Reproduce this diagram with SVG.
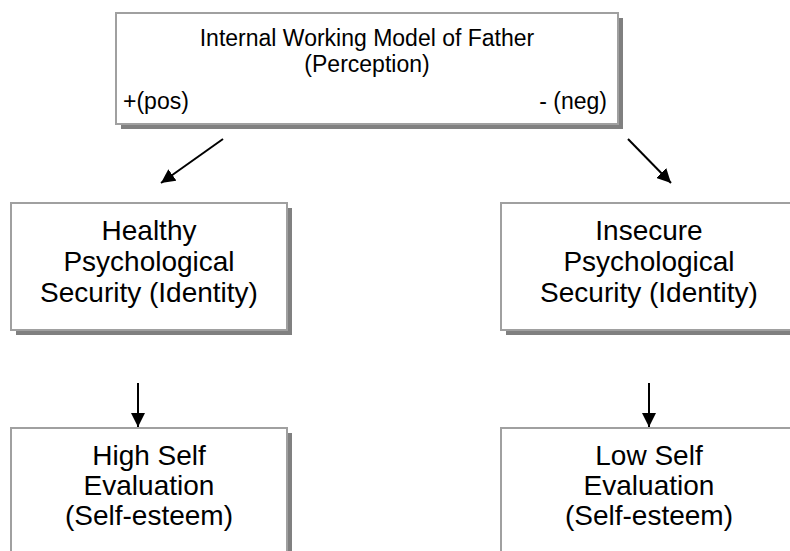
<svg xmlns="http://www.w3.org/2000/svg" width="790" height="551" viewBox="0 0 790 551">
<defs>
<style>
.shadow{fill:#808080;}
.box{fill:#ffffff;stroke:#a0a0a0;stroke-width:2;}
.t{font-family:"Liberation Sans",Arial,sans-serif;fill:#000;text-anchor:middle;}
.top{font-size:23px;}
.mid{font-size:28px;}
.edge{stroke:#000;stroke-width:2;fill:none;}
</style>
<marker id="ahb" viewBox="0 0 10 10" refX="10" refY="5" markerWidth="14" markerHeight="14" orient="auto" markerUnits="userSpaceOnUse">
<path d="M0,0 L10,5 L0,10 z" fill="#000"/>
</marker>
<clipPath id="negclip"><rect x="500" y="80" width="120" height="36"/></clipPath>
</defs>
<rect width="790" height="551" fill="#fff"/>
<g id="father">
<rect class="shadow" x="121" y="18" width="502" height="111"/>
<rect class="box" x="116" y="13" width="502" height="111"/>
<text class="t top" x="367" y="46">Internal Working Model of Father</text>
<text class="t top" x="367" y="72">(Perception)</text>
<text class="t top" x="123" y="109" style="text-anchor:start">+(pos)</text>
<text class="t top" x="607" y="109" style="text-anchor:end" clip-path="url(#negclip)">- (neg)</text>
</g>
<g id="healthy">
<rect class="shadow" x="16" y="208" width="276" height="127"/>
<rect class="box" x="11" y="203" width="276" height="127"/>
<text class="t mid" x="149" y="240">Healthy</text>
<text class="t mid" x="149" y="271">Psychological</text>
<text class="t mid" x="149" y="302">Security (Identity)</text>
</g>
<g id="insecure">
<rect class="shadow" x="506" y="208" width="300" height="127"/>
<rect class="box" x="501" y="203" width="300" height="127"/>
<text class="t mid" x="649" y="240">Insecure</text>
<text class="t mid" x="649" y="271">Psychological</text>
<text class="t mid" x="649" y="302">Security (Identity)</text>
</g>
<g id="high">
<rect class="shadow" x="16" y="433" width="276" height="140"/>
<rect class="box" x="11" y="428" width="276" height="140"/>
<text class="t mid" x="149" y="465">High Self</text>
<text class="t mid" x="149" y="495">Evaluation</text>
<text class="t mid" x="149" y="525">(Self-esteem)</text>
</g>
<g id="low">
<rect class="shadow" x="506" y="433" width="300" height="140"/>
<rect class="box" x="501" y="428" width="300" height="140"/>
<text class="t mid" x="649" y="465">Low Self</text>
<text class="t mid" x="649" y="495">Evaluation</text>
<text class="t mid" x="649" y="525">(Self-esteem)</text>
</g>
<g id="connectors">
<line class="edge" x1="223" y1="139" x2="161" y2="183" marker-end="url(#ahb)"/>
<line class="edge" x1="628" y1="139" x2="671" y2="183" marker-end="url(#ahb)"/>
<line class="edge" x1="138" y1="383" x2="138" y2="427" marker-end="url(#ahb)"/>
<line class="edge" x1="649" y1="383" x2="649" y2="427" marker-end="url(#ahb)"/>
</g>
</svg>
